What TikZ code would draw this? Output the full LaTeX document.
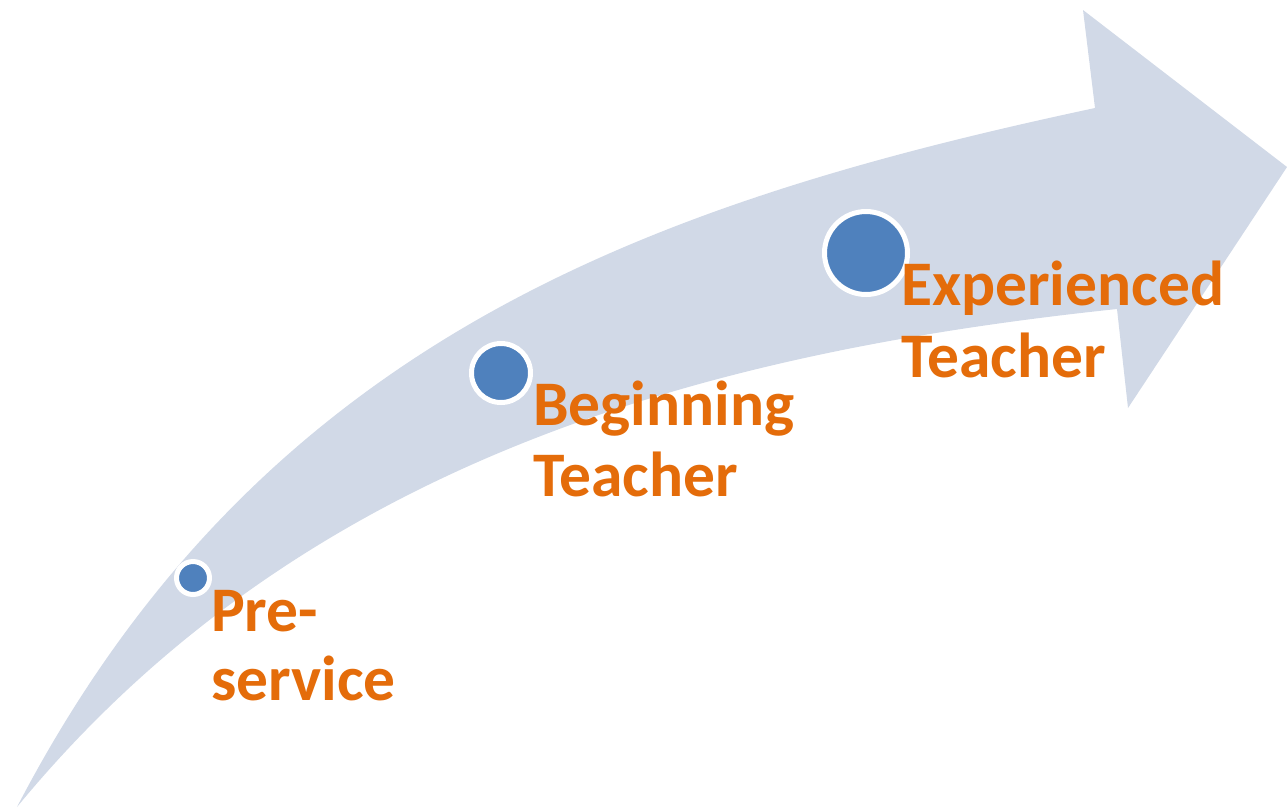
\documentclass[tikz,border=0pt]{standalone}
\usepackage{fontspec}
\setmainfont{Carlito}
\definecolor{arrowfill}{HTML}{D1D9E7}
\definecolor{dotblue}{HTML}{4F81BD}
\definecolor{labelorange}{HTML}{E46C0A}
\begin{document}
\begin{tikzpicture}[x=1pt,y=-1pt,
  dot/.style={circle,fill=dotblue,draw=white,line width=5pt,inner sep=0pt},
  lbl/.style={anchor=base west,inner sep=0pt,text=labelorange,font=\fontsize{63.5}{70}\selectfont\bfseries}]
\useasboundingbox (0,0) rectangle (1287,807);
% curved arrow
\fill[arrowfill] (17,807) .. controls (260,340) and (650,203) .. (1095,108)
  -- (1083,10) -- (1287,167) -- (1128,408) -- (1117,309)
  .. controls (700,353) and (300,463) .. (17,807) -- cycle;
% dots
\node[dot,minimum size=33pt] (d1) at (193,578) {};
\node[dot,minimum size=59pt] (d2) at (501,373) {};
\node[dot,minimum size=83pt] (d3) at (866,253) {};
% labels
\node[lbl] (l1a) at (211,631) {Pre-};
\node[lbl] (l1b) at (211,700) {service};
\node[lbl] (l2a) at (533,425) {Beginning};
\node[lbl] (l2b) at (533,496) {Teacher};
\node[lbl] (l3a) at (901,305) {Experienced};
\node[lbl] (l3b) at (901,377) {Teacher};
\end{tikzpicture}
\end{document}
